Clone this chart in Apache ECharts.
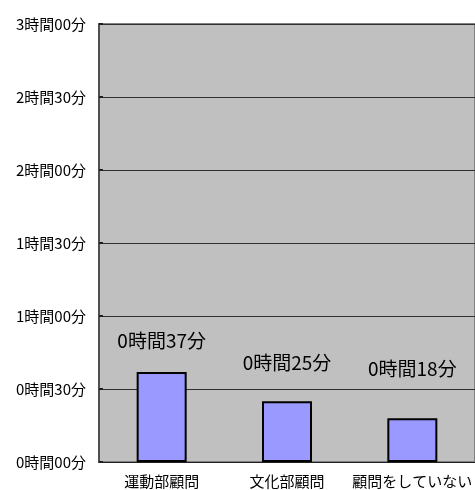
<!DOCTYPE html>
<html><head><meta charset="utf-8">
<script src="https://cdn.jsdelivr.net/npm/echarts@6/dist/echarts.min.js"></script>
<style>html,body{margin:0;padding:0;background:#fff;}#c{width:475px;height:490px;}</style>
</head><body><div id="c"></div>
<script>
var categories = ['運動部顧問', '文化部顧問', '顧問をしていない'];
var minutes = [37, 25, 18];
var labelGaps = [22, 29, 40];
var yTickLabels = ['0時間00分', '0時間30分', '1時間00分', '1時間30分', '2時間00分', '2時間30分', '3時間00分'];

function fmt(m) {
  var h = Math.floor(m / 60), mm = m % 60;
  return h + '時間' + (mm < 10 ? '0' : '') + mm + '分';
}
var FONT = '"Noto Sans CJK JP", sans-serif';
var chart = echarts.init(document.getElementById('c'), null, {renderer: 'canvas'});
chart.setOption({
  animation: false,
  backgroundColor: '#ffffff',
  grid: {left: 99, top: 24, width: 381, height: 438, show: true, backgroundColor: '#c0c0c0', borderWidth: 2, borderColor: '#808080'},
  xAxis: {
    type: 'category', data: categories,
    axisLine: {lineStyle: {color: '#202020', width: 1}},
    axisTick: {inside: true, length: 4, lineStyle: {color: '#202020'}},
    axisLabel: {color: '#000', fontFamily: FONT, fontSize: 15, margin: 12, interval: 0}
  },
  yAxis: {
    type: 'value', min: 0, max: 180, interval: 30,
    axisLine: {show: true, lineStyle: {color: '#505050', width: 2}},
    axisTick: {show: true, inside: true, length: 4, lineStyle: {color: '#202020', width: 2}},
    splitLine: {lineStyle: {color: '#303030', width: 1}},
    axisLabel: {color: '#000', fontFamily: FONT, fontSize: 15, margin: 13,
      formatter: function (v) { return yTickLabels[Math.round(v / 30)]; }}
  },
  series: [{
    type: 'bar', barWidth: 50,
    data: minutes.map(function (m, i) {
      return {value: m, label: {distance: labelGaps[i]}};
    }),
    itemStyle: {color: '#9999ff', borderColor: '#000', borderWidth: 2},
    label: {show: true, position: 'top', color: '#000', fontFamily: FONT, fontSize: 19,
      formatter: function (p) { return fmt(p.value); }}
  }]
});
</script></body></html>
